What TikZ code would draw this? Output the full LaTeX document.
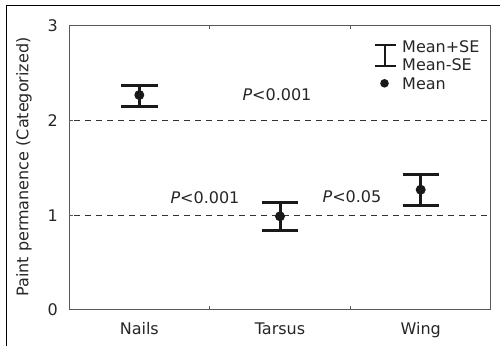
\documentclass[tikz,border=0pt]{standalone}
\usepackage{fontspec}
\setmainfont{DejaVu Sans}
\begin{document}
\begin{tikzpicture}[x=1pt,y=-1pt,
  lbl/.style={font=\fontsize{16}{19}\selectfont, text=black!85, inner sep=0pt},
  frame/.style={draw=black!65, line width=1pt},
  guide/.style={draw=black!80, line width=0.9pt, dash pattern=on 6pt off 5pt},
  ebar/.style={draw=black!90, line width=3pt},
  meandot/.style={fill=black!90}]
\useasboundingbox (0,0) rectangle (500,346);
% outer frame
\draw[line width=1.3pt] (6.7,346) -- (6.7,5.7) -- (500,5.7);
% plot frame
\draw[frame] (69,25) rectangle (490.7,309.7);
% ticks
\foreach \yy in {25,120,215.3,309.7} \draw[frame] (69,\yy) -- (73,\yy);
\foreach \xx in {209.6,350.2} {\draw[frame] (\xx,309.7) -- (\xx,306); \draw[frame] (\xx,25) -- (\xx,28.7);}
% guides
\draw[guide] (74,120) -- (490.7,120);
\draw[guide] (74,215.3) -- (490.7,215.3);
% y labels
\node[lbl, anchor=east] (y3) at (58,26) {3};
\node[lbl, anchor=east] (y2) at (58,120.5) {2};
\node[lbl, anchor=east] (y1) at (58,215.5) {1};
\node[lbl, anchor=east] (y0) at (58,310) {0};
\node[lbl, rotate=90] (ylab) at (24,167) {Paint permanence (Categorized)};
% x labels
\node[lbl, anchor=base] (xn) at (139.3,334.5) {Nails};
\node[lbl, anchor=base] (xt) at (280,334.5) {Tarsus};
\node[lbl, anchor=base] (xw) at (420.7,334.5) {Wing};
% error bars
\draw[ebar] (121,85) -- (157.6,85) (139.3,85) -- (139.3,106) (121,106) -- (157.6,106);
\fill[meandot] (139.3,95) circle (5);
\draw[ebar] (262,202.3) -- (298,202.3) (280,202.3) -- (280,230.3) (262,230.3) -- (298,230.3);
\fill[meandot] (280,216.3) circle (5);
\draw[ebar] (402.5,174.7) -- (438.9,174.7) (420.7,174.7) -- (420.7,205.3) (402.5,205.3) -- (438.9,205.3);
\fill[meandot] (420.7,189.7) circle (5);
% p labels
\node[lbl] (p1) at (277,95) {\textit{P}<0.001};
\node[lbl] (p2) at (205,198) {\textit{P}<0.001};
\node[lbl] (p3) at (352,197) {\textit{P}<0.05};
% legend
\draw[draw=black!90, line width=2pt] (374.5,44.5) -- (396,44.5) (385,44.5) -- (385,66) (374.5,66) -- (396,66);
\fill[meandot] (384.5,83.3) circle (4.3);
\node[lbl, anchor=west] (l1) at (402,46.2) {Mean+SE};
\node[lbl, anchor=west] (l2) at (402,64.2) {Mean-SE};
\node[lbl, anchor=west] (l3) at (402,83.5) {Mean};
\end{tikzpicture}
\end{document}
